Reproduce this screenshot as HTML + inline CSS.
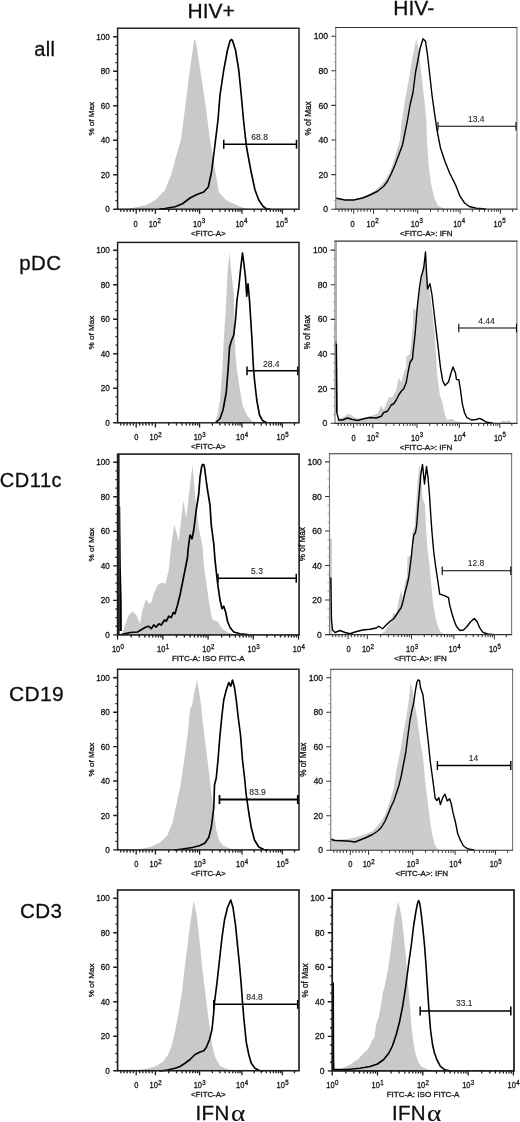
<!DOCTYPE html>
<html lang="en"><head><meta charset="utf-8"><title>IFN alpha histograms</title>
<style>html,body{margin:0;padding:0;background:#fff}body{width:520px;height:1122px;overflow:hidden}svg{display:block;font-family:'Liberation Sans', Arial, Helvetica, sans-serif}</style></head><body>
<svg width="520" height="1122" viewBox="0 0 520 1122">
<rect width="520" height="1122" fill="#fff"/>
<defs><filter id="soft" x="0" y="0" width="100%" height="100%"><feGaussianBlur stdDeviation="0.4"/></filter></defs>
<g filter="url(#soft)">
<g>
<polygon points="125,209.25 132.5,208 146.25,205 155.5,200 165,190 171.25,174.5 175.75,157.5 180.8,140.5 185.5,105 189.8,70 194.25,38.75 196,42 200.25,70 205.5,105 210,140 213,157 216,175 219,192.5 226,200 233.75,203.75 242.5,207.5 250,209.25" fill="#c9c9c9"/>
<polyline points="160,209 165,208.5 175,206.75 182.5,203.75 190,198 197.5,194.25 203.75,192 208.3,187 211.5,172 214.7,147 218,120 220,95 223.75,70 227.5,50 230,41 231.25,39.5 232.5,40.5 235.5,50 238.75,70 241.25,95 243.5,120 246.5,147 250.75,170 255,190 258.75,200 263,206.25 266.25,208.75 270,209.25" fill="none" stroke="#000" stroke-width="1.65" stroke-linejoin="round" stroke-linecap="round"/>
<rect x="117.6" y="28.25" width="181.4" height="180.95" fill="none" stroke="#1c1c1c" stroke-width="1.45"/>
<path d="M117.6 209.2H113.2M117.6 174.71H113.2M117.6 140.22H113.2M117.6 105.73H113.2M117.6 71.24H113.2M117.6 36.75H113.2" stroke="#1c1c1c" stroke-width="1.4" fill="none"/>
<path d="M117.6 200.58H115.5M117.6 191.95H115.5M117.6 183.33H115.5M117.6 166.09H115.5M117.6 157.46H115.5M117.6 148.84H115.5M117.6 131.6H115.5M117.6 122.97H115.5M117.6 114.35H115.5M117.6 97.11H115.5M117.6 88.48H115.5M117.6 79.86H115.5M117.6 62.62H115.5M117.6 54H115.5M117.6 45.37H115.5" stroke="#1c1c1c" stroke-width="1.3" fill="none"/>
<g font-size="8.6" text-anchor="end" fill="#161616" stroke="#161616" stroke-width="0.3">
<text transform="translate(109.9 212.3) scale(0.95 1)">0</text>
<text transform="translate(109.9 177.81) scale(0.95 1)">20</text>
<text transform="translate(109.9 143.32) scale(0.95 1)">40</text>
<text transform="translate(109.9 108.83) scale(0.95 1)">60</text>
<text transform="translate(109.9 74.34) scale(0.95 1)">80</text>
<text transform="translate(109.9 39.85) scale(0.95 1)">100</text>
</g>
<text transform="translate(93.6 118.72) rotate(-90)" font-size="8.1" text-anchor="middle" fill="#161616" stroke="#161616" stroke-width="0.3">% of Max</text>
<path d="M136.2 209.2V213.8M155.4 209.2V213.8M199.6 209.2V213.8M242 209.2V213.8M282.4 209.2V213.8M120.75 209.2V211.8M123.9 209.2V211.8M127.05 209.2V211.8M130.2 209.2V211.8M133.35 209.2V211.8M139.65 209.2V211.8M142.8 209.2V211.8M145.95 209.2V211.8M149.1 209.2V211.8M152.25 209.2V211.8M168.71 209.2V211.8M176.49 209.2V211.8M182.01 209.2V211.8M186.29 209.2V211.8M189.79 209.2V211.8M192.75 209.2V211.8M195.32 209.2V211.8M197.58 209.2V211.8M212.36 209.2V211.8M219.83 209.2V211.8M225.13 209.2V211.8M229.24 209.2V211.8M232.59 209.2V211.8M235.43 209.2V211.8M237.89 209.2V211.8M240.06 209.2V211.8M254.16 209.2V211.8M261.28 209.2V211.8M266.32 209.2V211.8M270.24 209.2V211.8M273.44 209.2V211.8M276.14 209.2V211.8M278.48 209.2V211.8M280.55 209.2V211.8M294.44 209.2V211.8" stroke="#1c1c1c" stroke-width="1.3" fill="none"/>
<g font-size="8.3" fill="#161616" stroke="#161616" stroke-width="0.3">
<text transform="translate(135.5 226.5) scale(0.9 1)" text-anchor="middle">0</text>
<text transform="translate(148.8 226.5) scale(0.9 1)">10<tspan dx="0.4" dy="-3.2" font-size="6.8">2</tspan></text>
<text transform="translate(193 226.5) scale(0.9 1)">10<tspan dx="0.4" dy="-3.2" font-size="6.8">3</tspan></text>
<text transform="translate(235.4 226.5) scale(0.9 1)">10<tspan dx="0.4" dy="-3.2" font-size="6.8">4</tspan></text>
<text transform="translate(275.8 226.5) scale(0.9 1)">10<tspan dx="0.4" dy="-3.2" font-size="6.8">5</tspan></text>
</g>
<text x="208.3" y="235.5" font-size="7.85" text-anchor="middle" fill="#161616" stroke="#161616" stroke-width="0.3">&lt;FITC-A&gt;</text>
<path d="M223.75 144.25H296.5M223.75 139.85V148.65M296.5 139.85V148.65" stroke="#000" stroke-width="1.5" fill="none"/>
<text x="259.6" y="140.1" font-size="8.5" text-anchor="middle" fill="#262626" stroke="#262626" stroke-width="0.1">68.8</text>
</g>
<g>
<polygon points="215,422.5 217.5,415 220,400 222.5,367.5 223.75,340 225.75,310 227.5,272.5 229.5,252.5 231.25,272.5 233.75,292.5 234.5,330 235.5,355 237,370 239.5,387.5 242.5,405 247.5,416.25 252.5,421.25 256,422.5" fill="#c9c9c9"/>
<polyline points="216.25,422 220,418.75 223,410 226.25,392.5 228.25,367.5 229.5,347.5 231.25,341.25 233.75,335 235.5,320 237,300 238.75,287.5 240.75,267.5 242.5,253 243.75,262.5 245.5,277.5 246.75,296.25 248,283.75 249.5,300 250.75,320 252,340 253.25,365 254.5,380 256.75,400 259.5,415 262.5,420.5 266.25,422.5" fill="none" stroke="#000" stroke-width="1.65" stroke-linejoin="round" stroke-linecap="round"/>
<rect x="117.6" y="242.4" width="181.4" height="180.4" fill="none" stroke="#1c1c1c" stroke-width="1.45"/>
<path d="M117.6 422.8H113.2M117.6 388.3H113.2M117.6 353.8H113.2M117.6 319.3H113.2M117.6 284.8H113.2M117.6 250.3H113.2" stroke="#1c1c1c" stroke-width="1.4" fill="none"/>
<path d="M117.6 414.18H115.5M117.6 405.55H115.5M117.6 396.93H115.5M117.6 379.68H115.5M117.6 371.05H115.5M117.6 362.43H115.5M117.6 345.18H115.5M117.6 336.55H115.5M117.6 327.93H115.5M117.6 310.68H115.5M117.6 302.05H115.5M117.6 293.43H115.5M117.6 276.18H115.5M117.6 267.55H115.5M117.6 258.93H115.5" stroke="#1c1c1c" stroke-width="1.3" fill="none"/>
<g font-size="8.6" text-anchor="end" fill="#161616" stroke="#161616" stroke-width="0.3">
<text transform="translate(109.9 425.9) scale(0.95 1)">0</text>
<text transform="translate(109.9 391.4) scale(0.95 1)">20</text>
<text transform="translate(109.9 356.9) scale(0.95 1)">40</text>
<text transform="translate(109.9 322.4) scale(0.95 1)">60</text>
<text transform="translate(109.9 287.9) scale(0.95 1)">80</text>
<text transform="translate(109.9 253.4) scale(0.95 1)">100</text>
</g>
<text transform="translate(93.6 332.6) rotate(-90)" font-size="8.1" text-anchor="middle" fill="#161616" stroke="#161616" stroke-width="0.3">% of Max</text>
<path d="M136.2 422.8V427.4M155.4 422.8V427.4M199.6 422.8V427.4M242 422.8V427.4M282.4 422.8V427.4M120.75 422.8V425.4M123.9 422.8V425.4M127.05 422.8V425.4M130.2 422.8V425.4M133.35 422.8V425.4M139.65 422.8V425.4M142.8 422.8V425.4M145.95 422.8V425.4M149.1 422.8V425.4M152.25 422.8V425.4M168.71 422.8V425.4M176.49 422.8V425.4M182.01 422.8V425.4M186.29 422.8V425.4M189.79 422.8V425.4M192.75 422.8V425.4M195.32 422.8V425.4M197.58 422.8V425.4M212.36 422.8V425.4M219.83 422.8V425.4M225.13 422.8V425.4M229.24 422.8V425.4M232.59 422.8V425.4M235.43 422.8V425.4M237.89 422.8V425.4M240.06 422.8V425.4M254.16 422.8V425.4M261.28 422.8V425.4M266.32 422.8V425.4M270.24 422.8V425.4M273.44 422.8V425.4M276.14 422.8V425.4M278.48 422.8V425.4M280.55 422.8V425.4M294.44 422.8V425.4" stroke="#1c1c1c" stroke-width="1.3" fill="none"/>
<g font-size="8.3" fill="#161616" stroke="#161616" stroke-width="0.3">
<text transform="translate(136.2 440.1) scale(0.9 1)" text-anchor="middle">0</text>
<text transform="translate(149.5 440.1) scale(0.9 1)">10<tspan dx="0.4" dy="-3.2" font-size="6.8">2</tspan></text>
<text transform="translate(193.7 440.1) scale(0.9 1)">10<tspan dx="0.4" dy="-3.2" font-size="6.8">3</tspan></text>
<text transform="translate(236.1 440.1) scale(0.9 1)">10<tspan dx="0.4" dy="-3.2" font-size="6.8">4</tspan></text>
<text transform="translate(276.5 440.1) scale(0.9 1)">10<tspan dx="0.4" dy="-3.2" font-size="6.8">5</tspan></text>
</g>
<text x="208.3" y="449.1" font-size="7.85" text-anchor="middle" fill="#161616" stroke="#161616" stroke-width="0.3">&lt;FITC-A&gt;</text>
<path d="M247 370.8H297.8M247 366.4V375.2M297.8 366.4V375.2" stroke="#000" stroke-width="1.5" fill="none"/>
<text x="271.25" y="367.1" font-size="8.5" text-anchor="middle" fill="#262626" stroke="#262626" stroke-width="0.1">28.4</text>
</g>
<g>
<polygon points="120,635 122.5,633.75 125,625 128.75,615 132.5,611.25 136.25,615 140,623.75 142.5,610 146.25,598.75 148.75,603.75 151.25,602.5 153.75,593.75 157.5,585 162.5,582.5 165.5,583.75 167.5,575 168.75,570 171.25,545 174.25,524.5 178.75,541.25 183.25,500.5 186.25,517.5 192.5,464.5 195,495 198.75,527.5 202.5,546.25 203.75,565 206.25,582.5 208.75,600 211.25,615 212.5,620 217.5,621.25 221.25,627.5 226.25,632 233.75,634.25 236,635" fill="#c9c9c9"/>
<polyline points="121.25,634.5 130,632.5 137.5,632 145,627.5 148.75,626.25 151.25,628.75 153.75,625 156.25,627 158.75,623.75 161.25,625 164.5,620 166.25,621.25 168.75,616.25 171.25,617.5 173.25,612.5 175,613.75 177.5,605 180,595 182.5,582.5 185,570 187.5,557.5 188,550 190,535 192,538.75 193.75,530 196.25,510 198.75,493.75 200,477.5 201.6,467 202.4,464.6 203.8,464.6 204.6,468 205.2,473 207.5,490 210,505 211.25,525 213.75,543.75 215,560 217.5,582.5 220,600 222,608.75 223.75,606.25 225.75,612.5 227.5,621.25 230,627.5 233.75,632 240,633.75 247.5,634.5" fill="none" stroke="#000" stroke-width="1.7" stroke-linejoin="round" stroke-linecap="round"/>
<polygon points="119.4,506 120.2,506 120.9,568 121.7,600 121.9,631 119.4,631" fill="#000"/>
<rect x="117.6" y="454.1" width="181.5" height="180.8" fill="none" stroke="#1c1c1c" stroke-width="1.6"/>
<line x1="118.45" y1="454.1" x2="118.45" y2="634.9" stroke="#1c1c1c" stroke-width="2.3"/>
<path d="M117.6 634.9H113.2M117.6 600.38H113.2M117.6 565.86H113.2M117.6 531.34H113.2M117.6 496.82H113.2M117.6 462.3H113.2" stroke="#1c1c1c" stroke-width="1.4" fill="none"/>
<path d="M117.6 626.27H115.5M117.6 617.64H115.5M117.6 609.01H115.5M117.6 591.75H115.5M117.6 583.12H115.5M117.6 574.49H115.5M117.6 557.23H115.5M117.6 548.6H115.5M117.6 539.97H115.5M117.6 522.71H115.5M117.6 514.08H115.5M117.6 505.45H115.5M117.6 488.19H115.5M117.6 479.56H115.5M117.6 470.93H115.5" stroke="#1c1c1c" stroke-width="1.3" fill="none"/>
<g font-size="8.6" text-anchor="end" fill="#161616" stroke="#161616" stroke-width="0.3">
<text transform="translate(109.9 638) scale(0.95 1)">0</text>
<text transform="translate(109.9 603.48) scale(0.95 1)">20</text>
<text transform="translate(109.9 568.96) scale(0.95 1)">40</text>
<text transform="translate(109.9 534.44) scale(0.95 1)">60</text>
<text transform="translate(109.9 499.92) scale(0.95 1)">80</text>
<text transform="translate(109.9 465.4) scale(0.95 1)">100</text>
</g>
<text transform="translate(93.6 544.5) rotate(-90)" font-size="8.1" text-anchor="middle" fill="#161616" stroke="#161616" stroke-width="0.3">% of Max</text>
<path d="M117.6 634.9V639.5M162.82 634.9V639.5M208.05 634.9V639.5M253.28 634.9V639.5M298.5 634.9V639.5M131.21 634.9V637.5M139.18 634.9V637.5M144.83 634.9V637.5M149.21 634.9V637.5M152.79 634.9V637.5M155.82 634.9V637.5M158.44 634.9V637.5M160.76 634.9V637.5M176.44 634.9V637.5M184.4 634.9V637.5M190.05 634.9V637.5M194.44 634.9V637.5M198.02 634.9V637.5M201.04 634.9V637.5M203.67 634.9V637.5M205.98 634.9V637.5M221.66 634.9V637.5M229.63 634.9V637.5M235.28 634.9V637.5M239.66 634.9V637.5M243.24 634.9V637.5M246.27 634.9V637.5M248.89 634.9V637.5M251.21 634.9V637.5M266.89 634.9V637.5M274.85 634.9V637.5M280.5 634.9V637.5M284.89 634.9V637.5M288.47 634.9V637.5M291.49 634.9V637.5M294.12 634.9V637.5M296.43 634.9V637.5" stroke="#1c1c1c" stroke-width="1.3" fill="none"/>
<g font-size="8.3" fill="#161616" stroke="#161616" stroke-width="0.3">
<text transform="translate(111.9 652.2) scale(0.9 1)">10<tspan dx="0.4" dy="-3.2" font-size="6.8">0</tspan></text>
<text transform="translate(157.12 652.2) scale(0.9 1)">10<tspan dx="0.4" dy="-3.2" font-size="6.8">1</tspan></text>
<text transform="translate(202.35 652.2) scale(0.9 1)">10<tspan dx="0.4" dy="-3.2" font-size="6.8">2</tspan></text>
<text transform="translate(247.57 652.2) scale(0.9 1)">10<tspan dx="0.4" dy="-3.2" font-size="6.8">3</tspan></text>
<text transform="translate(292.8 652.2) scale(0.9 1)">10<tspan dx="0.4" dy="-3.2" font-size="6.8">4</tspan></text>
</g>
<text x="208.35" y="661.2" font-size="8.1" text-anchor="middle" fill="#161616" stroke="#161616" stroke-width="0.3">FITC-A: ISO FITC-A</text>
<path d="M218 578.25H296.25M218 573.85V582.65M296.25 573.85V582.65" stroke="#000" stroke-width="1.5" fill="none"/>
<text x="257" y="574.1" font-size="8.5" text-anchor="middle" fill="#262626" stroke="#262626" stroke-width="0.1">5.3</text>
</g>
<g>
<polygon points="130,850.25 137.5,849.5 150,847 160,842.5 167.5,835 172.5,822.5 176.25,805 180,788 183,768 186.25,745 188.75,725 190,708.75 192,706 193.75,695 197,680 198.75,690 200.5,700 202.5,720 205.5,745 208.75,770 211,790 213.75,810 216.25,830 218.75,840 222.5,845 228.75,848 233.75,849.5 238,850.25" fill="#c9c9c9"/>
<polyline points="175,850 182.5,849 192.5,847.5 200,845.5 205,843 208.75,837.5 211.25,827.5 213.75,808 214.5,785 216.25,778 218,760 220,735 222,715 223.75,700 226.25,690 228.75,682.5 230.75,686.25 232.5,680 234.5,687.5 236.25,700 238.25,717.5 240.5,735 242.5,760 244.5,777.5 246.25,795 248.75,812.5 251.25,827.5 254.5,840 258.75,847 263.75,849.5 267.5,850" fill="none" stroke="#000" stroke-width="1.65" stroke-linejoin="round" stroke-linecap="round"/>
<rect x="117.6" y="669.25" width="181.4" height="180.65" fill="none" stroke="#1c1c1c" stroke-width="1.45"/>
<path d="M117.6 849.9H113.2M117.6 815.48H113.2M117.6 781.06H113.2M117.6 746.64H113.2M117.6 712.22H113.2M117.6 677.8H113.2" stroke="#1c1c1c" stroke-width="1.4" fill="none"/>
<path d="M117.6 841.29H115.5M117.6 832.69H115.5M117.6 824.08H115.5M117.6 806.88H115.5M117.6 798.27H115.5M117.6 789.66H115.5M117.6 772.45H115.5M117.6 763.85H115.5M117.6 755.25H115.5M117.6 738.03H115.5M117.6 729.43H115.5M117.6 720.82H115.5M117.6 703.62H115.5M117.6 695.01H115.5M117.6 686.4H115.5" stroke="#1c1c1c" stroke-width="1.3" fill="none"/>
<g font-size="8.6" text-anchor="end" fill="#161616" stroke="#161616" stroke-width="0.3">
<text transform="translate(109.9 853) scale(0.95 1)">0</text>
<text transform="translate(109.9 818.58) scale(0.95 1)">20</text>
<text transform="translate(109.9 784.16) scale(0.95 1)">40</text>
<text transform="translate(109.9 749.74) scale(0.95 1)">60</text>
<text transform="translate(109.9 715.32) scale(0.95 1)">80</text>
<text transform="translate(109.9 680.9) scale(0.95 1)">100</text>
</g>
<text transform="translate(93.6 759.58) rotate(-90)" font-size="8.1" text-anchor="middle" fill="#161616" stroke="#161616" stroke-width="0.3">% of Max</text>
<path d="M136.2 849.9V854.5M155.4 849.9V854.5M199.6 849.9V854.5M242 849.9V854.5M282.4 849.9V854.5M120.75 849.9V852.5M123.9 849.9V852.5M127.05 849.9V852.5M130.2 849.9V852.5M133.35 849.9V852.5M139.65 849.9V852.5M142.8 849.9V852.5M145.95 849.9V852.5M149.1 849.9V852.5M152.25 849.9V852.5M168.71 849.9V852.5M176.49 849.9V852.5M182.01 849.9V852.5M186.29 849.9V852.5M189.79 849.9V852.5M192.75 849.9V852.5M195.32 849.9V852.5M197.58 849.9V852.5M212.36 849.9V852.5M219.83 849.9V852.5M225.13 849.9V852.5M229.24 849.9V852.5M232.59 849.9V852.5M235.43 849.9V852.5M237.89 849.9V852.5M240.06 849.9V852.5M254.16 849.9V852.5M261.28 849.9V852.5M266.32 849.9V852.5M270.24 849.9V852.5M273.44 849.9V852.5M276.14 849.9V852.5M278.48 849.9V852.5M280.55 849.9V852.5M294.44 849.9V852.5" stroke="#1c1c1c" stroke-width="1.3" fill="none"/>
<g font-size="8.3" fill="#161616" stroke="#161616" stroke-width="0.3">
<text transform="translate(136.2 867.2) scale(0.9 1)" text-anchor="middle">0</text>
<text transform="translate(149.5 867.2) scale(0.9 1)">10<tspan dx="0.4" dy="-3.2" font-size="6.8">2</tspan></text>
<text transform="translate(193.7 867.2) scale(0.9 1)">10<tspan dx="0.4" dy="-3.2" font-size="6.8">3</tspan></text>
<text transform="translate(236.1 867.2) scale(0.9 1)">10<tspan dx="0.4" dy="-3.2" font-size="6.8">4</tspan></text>
<text transform="translate(276.5 867.2) scale(0.9 1)">10<tspan dx="0.4" dy="-3.2" font-size="6.8">5</tspan></text>
</g>
<text x="208.3" y="876.2" font-size="7.85" text-anchor="middle" fill="#161616" stroke="#161616" stroke-width="0.3">&lt;FITC-A&gt;</text>
<path d="M219.5 799.5H297.8M219.5 795.1V803.9M297.8 795.1V803.9" stroke="#000" stroke-width="1.8" fill="none"/>
<text x="257.5" y="794.9" font-size="8.5" text-anchor="middle" fill="#262626" stroke="#262626" stroke-width="0.1">83.9</text>
</g>
<g>
<polygon points="125,1070.75 132.5,1070.5 145,1069 155,1066.5 162.5,1062 167.5,1055.75 171.25,1047 175,1032 178.75,1012 182,992 183.75,975 187,950 190,925 193.75,900 197,917.5 200,945 202.5,970 205.25,992.5 207.5,1010 210,1030 212.5,1047 215.5,1058 220,1065.75 225,1068.25 230,1070 236,1070.75" fill="#c9c9c9"/>
<polyline points="160,1071 167.5,1070 175,1068.25 180,1066.5 185,1063.25 190,1059.5 195,1054.5 200,1052 203.75,1050.75 206.25,1047.5 209.5,1039.5 212,1029.5 213.5,1015 214.5,1002.5 217,982.5 219.5,960 222,937.5 224.5,920 227.5,907.5 230.75,900 233,907.5 235.5,925 237.5,945 239.5,965 241.25,985 242.5,1002.5 244,1020 246.25,1042 248.75,1054.5 251.25,1063.25 255,1068.25 258.75,1070.25 262.5,1071" fill="none" stroke="#000" stroke-width="1.65" stroke-linejoin="round" stroke-linecap="round"/>
<rect x="117.6" y="890" width="181.4" height="180.75" fill="none" stroke="#1c1c1c" stroke-width="1.6"/>
<path d="M117.6 1070.75H113.2M117.6 1036.24H113.2M117.6 1001.73H113.2M117.6 967.22H113.2M117.6 932.71H113.2M117.6 898.2H113.2" stroke="#1c1c1c" stroke-width="1.4" fill="none"/>
<path d="M117.6 1062.12H115.5M117.6 1053.49H115.5M117.6 1044.87H115.5M117.6 1027.61H115.5M117.6 1018.99H115.5M117.6 1010.36H115.5M117.6 993.1H115.5M117.6 984.48H115.5M117.6 975.85H115.5M117.6 958.59H115.5M117.6 949.97H115.5M117.6 941.34H115.5M117.6 924.08H115.5M117.6 915.46H115.5M117.6 906.83H115.5" stroke="#1c1c1c" stroke-width="1.3" fill="none"/>
<g font-size="8.6" text-anchor="end" fill="#161616" stroke="#161616" stroke-width="0.3">
<text transform="translate(109.9 1073.85) scale(0.95 1)">0</text>
<text transform="translate(109.9 1039.34) scale(0.95 1)">20</text>
<text transform="translate(109.9 1004.83) scale(0.95 1)">40</text>
<text transform="translate(109.9 970.32) scale(0.95 1)">60</text>
<text transform="translate(109.9 935.81) scale(0.95 1)">80</text>
<text transform="translate(109.9 901.3) scale(0.95 1)">100</text>
</g>
<text transform="translate(93.6 980.38) rotate(-90)" font-size="8.1" text-anchor="middle" fill="#161616" stroke="#161616" stroke-width="0.3">% of Max</text>
<path d="M136.2 1070.75V1075.35M155.4 1070.75V1075.35M199.6 1070.75V1075.35M242 1070.75V1075.35M282.4 1070.75V1075.35M120.75 1070.75V1073.35M123.9 1070.75V1073.35M127.05 1070.75V1073.35M130.2 1070.75V1073.35M133.35 1070.75V1073.35M139.65 1070.75V1073.35M142.8 1070.75V1073.35M145.95 1070.75V1073.35M149.1 1070.75V1073.35M152.25 1070.75V1073.35M168.71 1070.75V1073.35M176.49 1070.75V1073.35M182.01 1070.75V1073.35M186.29 1070.75V1073.35M189.79 1070.75V1073.35M192.75 1070.75V1073.35M195.32 1070.75V1073.35M197.58 1070.75V1073.35M212.36 1070.75V1073.35M219.83 1070.75V1073.35M225.13 1070.75V1073.35M229.24 1070.75V1073.35M232.59 1070.75V1073.35M235.43 1070.75V1073.35M237.89 1070.75V1073.35M240.06 1070.75V1073.35M254.16 1070.75V1073.35M261.28 1070.75V1073.35M266.32 1070.75V1073.35M270.24 1070.75V1073.35M273.44 1070.75V1073.35M276.14 1070.75V1073.35M278.48 1070.75V1073.35M280.55 1070.75V1073.35M294.44 1070.75V1073.35" stroke="#1c1c1c" stroke-width="1.3" fill="none"/>
<g font-size="8.3" fill="#161616" stroke="#161616" stroke-width="0.3">
<text transform="translate(136.2 1088.05) scale(0.9 1)" text-anchor="middle">0</text>
<text transform="translate(149.5 1088.05) scale(0.9 1)">10<tspan dx="0.4" dy="-3.2" font-size="6.8">2</tspan></text>
<text transform="translate(193.7 1088.05) scale(0.9 1)">10<tspan dx="0.4" dy="-3.2" font-size="6.8">3</tspan></text>
<text transform="translate(236.1 1088.05) scale(0.9 1)">10<tspan dx="0.4" dy="-3.2" font-size="6.8">4</tspan></text>
<text transform="translate(276.5 1088.05) scale(0.9 1)">10<tspan dx="0.4" dy="-3.2" font-size="6.8">5</tspan></text>
</g>
<text x="208.3" y="1097.05" font-size="7.85" text-anchor="middle" fill="#161616" stroke="#161616" stroke-width="0.3">&lt;FITC-A&gt;</text>
<path d="M213.75 1004.3H297.7M213.75 999.9V1008.7M297.7 999.9V1008.7" stroke="#000" stroke-width="1.5" fill="none"/>
<text x="254.5" y="999.9" font-size="8.5" text-anchor="middle" fill="#262626" stroke="#262626" stroke-width="0.1">84.8</text>
</g>
<g>
<polygon points="336.25,209.25 336.25,198.5 345,200 352.5,199.5 360,198 367.5,195 373.75,191.25 380,186.25 385,180 388.75,173.75 392.5,165 396.25,152.5 400,140 401.25,125 405,100 408.75,80 412.5,57.5 416.25,38.75 418.75,50 421.25,72.5 423.75,95 426.25,117.5 427.2,143 428.8,166.2 431.2,184.6 434.6,198.5 438,205.4 443.8,208.8 446,209.25" fill="#cccccc"/>
<polyline points="336.5,198.25 345,200 353.75,200 362.5,198 370,195 377.5,191.25 383.75,186.25 387.5,181.25 391.25,173.75 395,165 398.75,155 402.5,145 405,132.5 407.5,120 410,105 413,92.5 415.5,72.5 417.5,62.5 420,48.75 423,38.75 425.5,41.25 427.5,55 429.5,72.5 432,95 434.5,113 437,130 440.4,147.7 445,161.5 449.6,173 455.4,184.6 460,196.2 464.6,203 469.2,206.5 476.2,208.2 485.4,209" fill="none" stroke="#000" stroke-width="1.4" stroke-linejoin="round" stroke-linecap="round"/>
<path d="M335.75 27.5V209.2M516.9 27.5V209.2" stroke="#777" stroke-width="1.1" fill="none"/>
<path d="M335.75 27.5H516.9M335.75 209.2H516.9" stroke="#333" stroke-width="1.2" fill="none" stroke-linecap="square"/>
<path d="M335.75 209.2H331.35M335.75 174.6H331.35M335.75 140H331.35M335.75 105.4H331.35M335.75 70.8H331.35M335.75 36.2H331.35" stroke="#333" stroke-width="1.1" fill="none"/>
<path d="M335.75 200.55H333.65M335.75 191.9H333.65M335.75 183.25H333.65M335.75 165.95H333.65M335.75 157.3H333.65M335.75 148.65H333.65M335.75 131.35H333.65M335.75 122.7H333.65M335.75 114.05H333.65M335.75 96.75H333.65M335.75 88.1H333.65M335.75 79.45H333.65M335.75 62.15H333.65M335.75 53.5H333.65M335.75 44.85H333.65" stroke="#999" stroke-width="0.8" fill="none"/>
<g font-size="8.6" text-anchor="end" fill="#161616" stroke="#161616" stroke-width="0.3">
<text transform="translate(328.05 212.3) scale(1 1)">0</text>
<text transform="translate(328.05 177.7) scale(1 1)">20</text>
<text transform="translate(328.05 143.1) scale(1 1)">40</text>
<text transform="translate(328.05 108.5) scale(1 1)">60</text>
<text transform="translate(328.05 73.9) scale(1 1)">80</text>
<text transform="translate(328.05 39.3) scale(1 1)">100</text>
</g>
<text transform="translate(311.15 118.35) rotate(-90)" font-size="8.2" text-anchor="middle" fill="#161616" stroke="#161616" stroke-width="0.3">% of Max</text>
<path d="M353.75 209.2V213.8M373.55 209.2V213.8M417.75 209.2V213.8M460.15 209.2V213.8M500.55 209.2V213.8M338.9 209.2V211.8M342.05 209.2V211.8M345.2 209.2V211.8M348.35 209.2V211.8M351.5 209.2V211.8M357.8 209.2V211.8M360.95 209.2V211.8M364.1 209.2V211.8M367.25 209.2V211.8M370.4 209.2V211.8M386.86 209.2V211.8M394.64 209.2V211.8M400.16 209.2V211.8M404.44 209.2V211.8M407.94 209.2V211.8M410.9 209.2V211.8M413.47 209.2V211.8M415.73 209.2V211.8M430.51 209.2V211.8M437.98 209.2V211.8M443.28 209.2V211.8M447.39 209.2V211.8M450.74 209.2V211.8M453.58 209.2V211.8M456.04 209.2V211.8M458.21 209.2V211.8M472.31 209.2V211.8M479.43 209.2V211.8M484.47 209.2V211.8M488.39 209.2V211.8M491.59 209.2V211.8M494.29 209.2V211.8M496.63 209.2V211.8M498.7 209.2V211.8M512.59 209.2V211.8" stroke="#333" stroke-width="1" fill="none"/>
<g font-size="8.3" fill="#161616" stroke="#161616" stroke-width="0.3">
<text transform="translate(352.65 226.5) scale(0.9 1)" text-anchor="middle">0</text>
<text transform="translate(366.55 226.5) scale(0.9 1)">10<tspan dx="0.4" dy="-3.2" font-size="6.8">2</tspan></text>
<text transform="translate(410.75 226.5) scale(0.9 1)">10<tspan dx="0.4" dy="-3.2" font-size="6.8">3</tspan></text>
<text transform="translate(453.15 226.5) scale(0.9 1)">10<tspan dx="0.4" dy="-3.2" font-size="6.8">4</tspan></text>
<text transform="translate(493.55 226.5) scale(0.9 1)">10<tspan dx="0.4" dy="-3.2" font-size="6.8">5</tspan></text>
</g>
<text x="426.32" y="235.5" font-size="8" text-anchor="middle" fill="#161616" stroke="#161616" stroke-width="0.3">&lt;FITC-A&gt;: IFN</text>
<path d="M438 126.3H516M438 122.1V130.5M516 122.1V130.5" stroke="#000" stroke-width="1.1" fill="none"/>
<text x="476.3" y="122" font-size="8.5" text-anchor="middle" fill="#262626" stroke="#262626" stroke-width="0.1">13.4</text>
</g>
<g>
<polygon points="337,423 337,419 342.5,417.5 348.75,413.75 355,417.5 360,418.75 370,416.25 377.5,413.75 381.25,405 383.75,410 388.75,397.5 392.5,397 396.25,390 398.75,377.5 401.25,382.5 403.75,372.5 406.25,367.5 406.25,357 410,354 411.25,342.5 412.7,327.3 413.4,307.7 416.2,311.2 418.5,297.3 422,276.5 425,260 427,275 430,292.7 432.3,311.2 434.6,332 435.8,353 437.4,376 439.7,394.6 442.7,403.8 445,415.4 447.3,420 452,418.8 455.4,421 464.6,422.3 470,423" fill="#cccccc"/>
<polygon points="500,423 503,420.5 506,421.5 509,420 512,423" fill="#cccccc"/>
<polyline points="336.2,342 336.8,412.5 338.75,420 342.5,420 347.5,418 352.5,419.5 357.5,420.5 363.75,418.75 370,417.5 376.25,418 381.25,416.25 383.75,412.5 387.5,411.25 391.25,405 393.75,403.75 396.25,400 398.75,395 401.25,391.25 403.75,388.75 406.25,382.5 408,372.5 410,362.5 412.5,358.75 413,352.5 415,335 416.25,320 417.5,305 419.5,287.5 421.25,276.25 422.5,272.5 423.75,267.5 425.5,252 426.25,267.5 427.5,289 430,283.75 432,295 433.75,310 435.8,327.3 438,346 440.4,367 442.7,380.8 445,385.4 448.5,382 450.8,373.8 453,367 455.4,372.7 456.5,379.6 458.8,379.6 460.5,390 462.3,403.8 464.6,413 467,417.7 471.5,420 476.2,419.5 479.6,418.4 483,420 486.5,422.3 492.3,423" fill="none" stroke="#000" stroke-width="1.4" stroke-linejoin="round" stroke-linecap="round"/>
<polyline points="336.35,344 336.7,412" fill="none" stroke="#000" stroke-width="1.5" stroke-linejoin="round"/>
<polyline points="336.3,241.5 336.3,344" fill="none" stroke="#9a9a9a" stroke-width="1"/>
<path d="M335 241.2V423.3M516.9 241.2V423.3" stroke="#777" stroke-width="1.1" fill="none"/>
<path d="M335 241.2H516.9M335 423.3H516.9" stroke="#333" stroke-width="1.2" fill="none" stroke-linecap="square"/>
<path d="M335 423.3H330.6M335 388.66H330.6M335 354.02H330.6M335 319.38H330.6M335 284.74H330.6M335 250.1H330.6" stroke="#333" stroke-width="1.1" fill="none"/>
<path d="M335 414.64H332.9M335 405.98H332.9M335 397.32H332.9M335 380H332.9M335 371.34H332.9M335 362.68H332.9M335 345.36H332.9M335 336.7H332.9M335 328.04H332.9M335 310.72H332.9M335 302.06H332.9M335 293.4H332.9M335 276.08H332.9M335 267.42H332.9M335 258.76H332.9" stroke="#999" stroke-width="0.8" fill="none"/>
<g font-size="8.6" text-anchor="end" fill="#161616" stroke="#161616" stroke-width="0.3">
<text transform="translate(327.3 426.4) scale(1 1)">0</text>
<text transform="translate(327.3 391.76) scale(1 1)">20</text>
<text transform="translate(327.3 357.12) scale(1 1)">40</text>
<text transform="translate(327.3 322.48) scale(1 1)">60</text>
<text transform="translate(327.3 287.84) scale(1 1)">80</text>
<text transform="translate(327.3 253.2) scale(1 1)">100</text>
</g>
<text transform="translate(310.4 332.25) rotate(-90)" font-size="8.2" text-anchor="middle" fill="#161616" stroke="#161616" stroke-width="0.3">% of Max</text>
<path d="M353.6 423.3V427.9M372.8 423.3V427.9M417 423.3V427.9M459.4 423.3V427.9M499.8 423.3V427.9M338.15 423.3V425.9M341.3 423.3V425.9M344.45 423.3V425.9M347.6 423.3V425.9M350.75 423.3V425.9M357.05 423.3V425.9M360.2 423.3V425.9M363.35 423.3V425.9M366.5 423.3V425.9M369.65 423.3V425.9M386.11 423.3V425.9M393.89 423.3V425.9M399.41 423.3V425.9M403.69 423.3V425.9M407.19 423.3V425.9M410.15 423.3V425.9M412.72 423.3V425.9M414.98 423.3V425.9M429.76 423.3V425.9M437.23 423.3V425.9M442.53 423.3V425.9M446.64 423.3V425.9M449.99 423.3V425.9M452.83 423.3V425.9M455.29 423.3V425.9M457.46 423.3V425.9M471.56 423.3V425.9M478.68 423.3V425.9M483.72 423.3V425.9M487.64 423.3V425.9M490.84 423.3V425.9M493.54 423.3V425.9M495.88 423.3V425.9M497.95 423.3V425.9M511.84 423.3V425.9" stroke="#333" stroke-width="1" fill="none"/>
<g font-size="8.3" fill="#161616" stroke="#161616" stroke-width="0.3">
<text transform="translate(353.6 440.6) scale(0.9 1)" text-anchor="middle">0</text>
<text transform="translate(366.9 440.6) scale(0.9 1)">10<tspan dx="0.4" dy="-3.2" font-size="6.8">2</tspan></text>
<text transform="translate(411.1 440.6) scale(0.9 1)">10<tspan dx="0.4" dy="-3.2" font-size="6.8">3</tspan></text>
<text transform="translate(453.5 440.6) scale(0.9 1)">10<tspan dx="0.4" dy="-3.2" font-size="6.8">4</tspan></text>
<text transform="translate(493.9 440.6) scale(0.9 1)">10<tspan dx="0.4" dy="-3.2" font-size="6.8">5</tspan></text>
</g>
<text x="425.95" y="449.6" font-size="8" text-anchor="middle" fill="#161616" stroke="#161616" stroke-width="0.3">&lt;FITC-A&gt;: IFN</text>
<path d="M458.8 328H516.5M458.8 323.8V332.2M516.5 323.8V332.2" stroke="#000" stroke-width="1.1" fill="none"/>
<text x="486.5" y="323.6" font-size="8.5" text-anchor="middle" fill="#262626" stroke="#262626" stroke-width="0.1">4.44</text>
</g>
<g>
<polygon points="380,634.8 385,631.25 390,622.5 393.75,612.5 396.25,615 398.75,600 401.25,590 403,600 405,582.5 407,575 407.5,557.5 411.25,555 412.5,531.25 414.5,527.5 416.25,502.5 417.5,482.5 419.25,465 421.25,472.5 422.5,497.5 425,505 426.25,530 427.5,550 429.5,565 431.25,585 433,602.5 435,615 437.5,625 440,631.25 443.8,634 446,634.8" fill="#cccccc"/>
<polygon points="330,634.8 330,538.5 332,538.5 332,634.8" fill="#cccccc"/>
<polyline points="330.8,578 331.5,620 332.5,630 335,632.5 340,630.5 345,632.5 350,633.75 355,632 362.5,630 370,629.25 376.25,628 378.75,626.25 382.5,628.75 386.25,625 390,621.25 393.75,618.75 396.25,615 398.75,611.25 401.25,607.5 403,601.25 405,592.5 407,585 408.75,577.5 410,567.5 411.25,557.5 412.5,545 413.75,535 415.5,532.5 416.75,525 418,507.5 419.5,490 420.75,475 422.5,464.5 424.5,484 426.5,466.5 428,477.5 429.5,495 430.75,515 432,532.5 433.75,552 435.8,567.7 438,582 439.7,594.2 443.8,595.4 448.5,597.7 449.6,604.6 452,613.8 454.2,620.8 456.5,626.5 460,630.5 463.5,630 467,626.5 470.4,622 474.3,618.5 477.3,622 479.6,627.7 483,632.3 487.7,634 494.6,634.6" fill="none" stroke="#000" stroke-width="1.4" stroke-linejoin="round" stroke-linecap="round"/>
<path d="M329.5 453.75V634.6M511.6 453.75V634.6" stroke="#777" stroke-width="1.1" fill="none"/>
<path d="M329.5 453.75H511.6M329.5 634.6H511.6" stroke="#333" stroke-width="1.2" fill="none" stroke-linecap="square"/>
<path d="M329.5 634.6H325.1M329.5 600.06H325.1M329.5 565.52H325.1M329.5 530.98H325.1M329.5 496.44H325.1M329.5 461.9H325.1" stroke="#333" stroke-width="1.1" fill="none"/>
<path d="M329.5 625.97H327.4M329.5 617.33H327.4M329.5 608.7H327.4M329.5 591.42H327.4M329.5 582.79H327.4M329.5 574.15H327.4M329.5 556.88H327.4M329.5 548.25H327.4M329.5 539.62H327.4M329.5 522.35H327.4M329.5 513.71H327.4M329.5 505.07H327.4M329.5 487.8H327.4M329.5 479.17H327.4M329.5 470.53H327.4" stroke="#999" stroke-width="0.8" fill="none"/>
<g font-size="8.6" text-anchor="end" fill="#161616" stroke="#161616" stroke-width="0.3">
<text transform="translate(321.8 637.7) scale(1 1)">0</text>
<text transform="translate(321.8 603.16) scale(1 1)">20</text>
<text transform="translate(321.8 568.62) scale(1 1)">40</text>
<text transform="translate(321.8 534.08) scale(1 1)">60</text>
<text transform="translate(321.8 499.54) scale(1 1)">80</text>
<text transform="translate(321.8 465) scale(1 1)">100</text>
</g>
<text transform="translate(304.9 544.17) rotate(-90)" font-size="8.2" text-anchor="middle" fill="#161616" stroke="#161616" stroke-width="0.3">% of Max</text>
<path d="M348.1 634.6V639.2M367.3 634.6V639.2M411.5 634.6V639.2M453.9 634.6V639.2M494.3 634.6V639.2M332.65 634.6V637.2M335.8 634.6V637.2M338.95 634.6V637.2M342.1 634.6V637.2M345.25 634.6V637.2M351.55 634.6V637.2M354.7 634.6V637.2M357.85 634.6V637.2M361 634.6V637.2M364.15 634.6V637.2M380.61 634.6V637.2M388.39 634.6V637.2M393.91 634.6V637.2M398.19 634.6V637.2M401.69 634.6V637.2M404.65 634.6V637.2M407.22 634.6V637.2M409.48 634.6V637.2M424.26 634.6V637.2M431.73 634.6V637.2M437.03 634.6V637.2M441.14 634.6V637.2M444.49 634.6V637.2M447.33 634.6V637.2M449.79 634.6V637.2M451.96 634.6V637.2M466.06 634.6V637.2M473.18 634.6V637.2M478.22 634.6V637.2M482.14 634.6V637.2M485.34 634.6V637.2M488.04 634.6V637.2M490.38 634.6V637.2M492.45 634.6V637.2M506.34 634.6V637.2" stroke="#333" stroke-width="1" fill="none"/>
<g font-size="8.3" fill="#161616" stroke="#161616" stroke-width="0.3">
<text transform="translate(348.6 651.9) scale(0.9 1)" text-anchor="middle">0</text>
<text transform="translate(361.9 651.9) scale(0.9 1)">10<tspan dx="0.4" dy="-3.2" font-size="6.8">2</tspan></text>
<text transform="translate(406.1 651.9) scale(0.9 1)">10<tspan dx="0.4" dy="-3.2" font-size="6.8">3</tspan></text>
<text transform="translate(448.5 651.9) scale(0.9 1)">10<tspan dx="0.4" dy="-3.2" font-size="6.8">4</tspan></text>
<text transform="translate(488.9 651.9) scale(0.9 1)">10<tspan dx="0.4" dy="-3.2" font-size="6.8">5</tspan></text>
</g>
<text x="420.55" y="660.9" font-size="8" text-anchor="middle" fill="#161616" stroke="#161616" stroke-width="0.3">&lt;FITC-A&gt;: IFN</text>
<path d="M442.2 570.8H510.8M442.2 566.6V575M510.8 566.6V575" stroke="#000" stroke-width="1.1" fill="none"/>
<text x="476" y="566.3" font-size="8.5" text-anchor="middle" fill="#262626" stroke="#262626" stroke-width="0.1">12.8</text>
</g>
<g>
<polygon points="331.5,850.25 331.5,837 335,839.5 347,839 360,836.25 372.5,831.25 381.25,821.25 385,815 390,801.25 393.75,788 396.25,771 400,752.5 403,735 406.25,717.5 408.75,700 410.75,682.5 413,692.5 415,705 417.5,720 420,740 423,757 425,779 427.5,800 430,821 432.5,836 435,845 438,849.5 440.4,850.25" fill="#cccccc"/>
<polyline points="331.3,839.5 335,840.5 342.5,840.75 350,841.25 355,842 360,840 366.25,837.5 372.5,834.5 377.5,831.25 381.25,827.5 385,821.25 388.75,812.5 391.25,806.25 393.75,801.25 396.25,793.75 398.75,786 401.25,776 403.5,764 405.75,752.5 408,735 410,720 412,710 413.75,702.5 415.5,690 417,682 418,680 419.5,680.5 420.5,687.5 423,695 424.5,708 426.3,724.6 428.4,743 430.2,761 432,774 433.6,786 435.2,798.5 437,800.5 438.8,797.7 440.4,804.6 442.7,797.7 445,794.2 447.3,801 449.6,798.8 451.2,803.5 453,812.7 455.4,822 457.7,833.5 460.5,840.4 463.5,846 468,849 473.8,850" fill="none" stroke="#000" stroke-width="1.4" stroke-linejoin="round" stroke-linecap="round"/>
<path d="M330.75 669.25V850.25M512.6 669.25V850.25" stroke="#777" stroke-width="1.1" fill="none"/>
<path d="M330.75 669.25H512.6M330.75 850.25H512.6" stroke="#333" stroke-width="1.2" fill="none" stroke-linecap="square"/>
<path d="M330.75 850.25H326.35M330.75 815.74H326.35M330.75 781.23H326.35M330.75 746.72H326.35M330.75 712.21H326.35M330.75 677.7H326.35" stroke="#333" stroke-width="1.1" fill="none"/>
<path d="M330.75 841.62H328.65M330.75 833H328.65M330.75 824.37H328.65M330.75 807.11H328.65M330.75 798.49H328.65M330.75 789.86H328.65M330.75 772.6H328.65M330.75 763.98H328.65M330.75 755.35H328.65M330.75 738.09H328.65M330.75 729.47H328.65M330.75 720.84H328.65M330.75 703.58H328.65M330.75 694.96H328.65M330.75 686.33H328.65" stroke="#999" stroke-width="0.8" fill="none"/>
<g font-size="8.6" text-anchor="end" fill="#161616" stroke="#161616" stroke-width="0.3">
<text transform="translate(323.05 853.35) scale(1 1)">0</text>
<text transform="translate(323.05 818.84) scale(1 1)">20</text>
<text transform="translate(323.05 784.33) scale(1 1)">40</text>
<text transform="translate(323.05 749.82) scale(1 1)">60</text>
<text transform="translate(323.05 715.31) scale(1 1)">80</text>
<text transform="translate(323.05 680.8) scale(1 1)">100</text>
</g>
<text transform="translate(306.15 759.75) rotate(-90)" font-size="8.2" text-anchor="middle" fill="#161616" stroke="#161616" stroke-width="0.3">% of Max</text>
<path d="M350.35 850.25V854.85M368.55 850.25V854.85M412.75 850.25V854.85M455.15 850.25V854.85M495.55 850.25V854.85M333.9 850.25V852.85M337.05 850.25V852.85M340.2 850.25V852.85M343.35 850.25V852.85M346.5 850.25V852.85M352.8 850.25V852.85M355.95 850.25V852.85M359.1 850.25V852.85M362.25 850.25V852.85M365.4 850.25V852.85M381.86 850.25V852.85M389.64 850.25V852.85M395.16 850.25V852.85M399.44 850.25V852.85M402.94 850.25V852.85M405.9 850.25V852.85M408.47 850.25V852.85M410.73 850.25V852.85M425.51 850.25V852.85M432.98 850.25V852.85M438.28 850.25V852.85M442.39 850.25V852.85M445.74 850.25V852.85M448.58 850.25V852.85M451.04 850.25V852.85M453.21 850.25V852.85M467.31 850.25V852.85M474.43 850.25V852.85M479.47 850.25V852.85M483.39 850.25V852.85M486.59 850.25V852.85M489.29 850.25V852.85M491.63 850.25V852.85M493.7 850.25V852.85M507.59 850.25V852.85" stroke="#333" stroke-width="1" fill="none"/>
<g font-size="8.3" fill="#161616" stroke="#161616" stroke-width="0.3">
<text transform="translate(350.35 866.85) scale(0.9 1)" text-anchor="middle">0</text>
<text transform="translate(362.65 866.85) scale(0.9 1)">10<tspan dx="0.4" dy="-3.2" font-size="6.8">2</tspan></text>
<text transform="translate(406.85 866.85) scale(0.9 1)">10<tspan dx="0.4" dy="-3.2" font-size="6.8">3</tspan></text>
<text transform="translate(449.25 866.85) scale(0.9 1)">10<tspan dx="0.4" dy="-3.2" font-size="6.8">4</tspan></text>
<text transform="translate(489.65 866.85) scale(0.9 1)">10<tspan dx="0.4" dy="-3.2" font-size="6.8">5</tspan></text>
</g>
<text x="421.68" y="875.85" font-size="8" text-anchor="middle" fill="#161616" stroke="#161616" stroke-width="0.3">&lt;FITC-A&gt;: IFN</text>
<path d="M437.4 765.5H510.8M437.4 760.9V770.1M510.8 760.9V770.1" stroke="#000" stroke-width="1.4" fill="none"/>
<text x="473.5" y="761.2" font-size="8.5" text-anchor="middle" fill="#262626" stroke="#262626" stroke-width="0.1">14</text>
</g>
<g>
<polygon points="336,1070.9 342.5,1068.25 350,1064.5 357.5,1059.5 363.75,1053.25 368.75,1048.25 371.25,1042 374.5,1037 376.25,1024.5 378.75,1017 381.25,1003.5 383,992 385,985 388.75,965 392,940 395,917.5 398.25,901.25 401.25,915 403.75,935 405.75,955 407.5,980 408.75,992.5 410.2,1008 411.25,1024.5 412.8,1038 415,1052 418,1061.5 421.25,1066.5 427.5,1069.3 432,1070.9" fill="#c9c9c9"/>
<polyline points="333.2,983 333.5,1060 333.75,1069.5 347.5,1069.5 360,1068.25 370,1066.5 377.5,1064 383.75,1059.5 388.75,1053.25 392.5,1045.75 396.25,1034.5 399.5,1022 402.5,1007 405.5,988 408.5,965 411.3,945 413.75,925 416,911 417.5,903.5 418.6,900.5 419.8,903.5 421,912 422.8,928 424.5,945 426,965 427.3,985 428.8,1008 430.5,1029.5 432.5,1044.5 434.5,1053 437,1060 440.4,1066.3 445,1069.8 450.8,1071" fill="none" stroke="#000" stroke-width="1.6" stroke-linejoin="round" stroke-linecap="round"/>
<rect x="332.2" y="890" width="181.8" height="180.9" fill="none" stroke="#1c1c1c" stroke-width="1.75"/>
<path d="M332.2 1070.9H327.8M332.2 1036.36H327.8M332.2 1001.82H327.8M332.2 967.28H327.8M332.2 932.74H327.8M332.2 898.2H327.8" stroke="#1c1c1c" stroke-width="1.4" fill="none"/>
<path d="M332.2 1062.27H330.1M332.2 1053.63H330.1M332.2 1045H330.1M332.2 1027.73H330.1M332.2 1019.09H330.1M332.2 1010.46H330.1M332.2 993.19H330.1M332.2 984.55H330.1M332.2 975.92H330.1M332.2 958.65H330.1M332.2 950.01H330.1M332.2 941.38H330.1M332.2 924.11H330.1M332.2 915.47H330.1M332.2 906.84H330.1" stroke="#1c1c1c" stroke-width="1.3" fill="none"/>
<g font-size="8.6" text-anchor="end" fill="#161616" stroke="#161616" stroke-width="0.3">
<text transform="translate(324.5 1074) scale(1 1)">0</text>
<text transform="translate(324.5 1039.46) scale(1 1)">20</text>
<text transform="translate(324.5 1004.92) scale(1 1)">40</text>
<text transform="translate(324.5 970.38) scale(1 1)">60</text>
<text transform="translate(324.5 935.84) scale(1 1)">80</text>
<text transform="translate(324.5 901.3) scale(1 1)">100</text>
</g>
<text transform="translate(307.8 980.45) rotate(-90)" font-size="8.2" text-anchor="middle" fill="#161616" stroke="#161616" stroke-width="0.3">% of Max</text>
<path d="M332.2 1070.9V1075.5M377.5 1070.9V1075.5M422.8 1070.9V1075.5M468.1 1070.9V1075.5M513.4 1070.9V1075.5M345.84 1070.9V1073.5M353.81 1070.9V1073.5M359.47 1070.9V1073.5M363.86 1070.9V1073.5M367.45 1070.9V1073.5M370.48 1070.9V1073.5M373.11 1070.9V1073.5M375.43 1070.9V1073.5M391.14 1070.9V1073.5M399.11 1070.9V1073.5M404.77 1070.9V1073.5M409.16 1070.9V1073.5M412.75 1070.9V1073.5M415.78 1070.9V1073.5M418.41 1070.9V1073.5M420.73 1070.9V1073.5M436.44 1070.9V1073.5M444.41 1070.9V1073.5M450.07 1070.9V1073.5M454.46 1070.9V1073.5M458.05 1070.9V1073.5M461.08 1070.9V1073.5M463.71 1070.9V1073.5M466.03 1070.9V1073.5M481.74 1070.9V1073.5M489.71 1070.9V1073.5M495.37 1070.9V1073.5M499.76 1070.9V1073.5M503.35 1070.9V1073.5M506.38 1070.9V1073.5M509.01 1070.9V1073.5M511.33 1070.9V1073.5" stroke="#1c1c1c" stroke-width="1.3" fill="none"/>
<g font-size="8.3" fill="#161616" stroke="#161616" stroke-width="0.3">
<text transform="translate(326.3 1088.2) scale(0.9 1)">10<tspan dx="0.4" dy="-3.2" font-size="6.8">0</tspan></text>
<text transform="translate(371.6 1088.2) scale(0.9 1)">10<tspan dx="0.4" dy="-3.2" font-size="6.8">1</tspan></text>
<text transform="translate(416.9 1088.2) scale(0.9 1)">10<tspan dx="0.4" dy="-3.2" font-size="6.8">2</tspan></text>
<text transform="translate(462.2 1088.2) scale(0.9 1)">10<tspan dx="0.4" dy="-3.2" font-size="6.8">3</tspan></text>
<text transform="translate(507.5 1088.2) scale(0.9 1)">10<tspan dx="0.4" dy="-3.2" font-size="6.8">4</tspan></text>
</g>
<text x="423.1" y="1097.2" font-size="8.1" text-anchor="middle" fill="#161616" stroke="#161616" stroke-width="0.3">FITC-A: ISO FITC-A</text>
<path d="M420.2 1011H510.8M420.2 1006.6V1015.4M510.8 1006.6V1015.4" stroke="#000" stroke-width="1.5" fill="none"/>
<text x="464.3" y="1006.2" font-size="8.5" text-anchor="middle" fill="#262626" stroke="#262626" stroke-width="0.1">33.1</text>
</g>
<g fill="#111" stroke="#111" stroke-width="0.3">
<text x="187.5" y="17.7" font-size="21">HIV+</text>
<text x="393.3" y="14.9" font-size="21">HIV-</text>
<text x="34.2" y="56.3" font-size="20" letter-spacing="0.4">all</text>
<text x="19.2" y="269.8" font-size="20.5" letter-spacing="0.45">pDC</text>
<text x="-0.3" y="486.5" font-size="20" letter-spacing="0.55">CD11c</text>
<text x="9" y="701.3" font-size="21" letter-spacing="0.3">CD19</text>
<text x="20" y="918.4" font-size="20.6" letter-spacing="0.4">CD3</text>
<text x="195.5" y="1120.4" font-size="20.5" letter-spacing="0.35">IFN</text>
<text x="391.9" y="1120.4" font-size="20.5" letter-spacing="0.35">IFN</text>
<text transform="translate(231.1 1120.5) scale(1.13 1.0)" font-size="24" stroke-width="0.15" font-family="'Liberation Serif', serif">α</text>
<text transform="translate(427.1 1120.5) scale(1.13 1.0)" font-size="24" stroke-width="0.15" font-family="'Liberation Serif', serif">α</text>
</g>
</g>
</svg></body></html>
